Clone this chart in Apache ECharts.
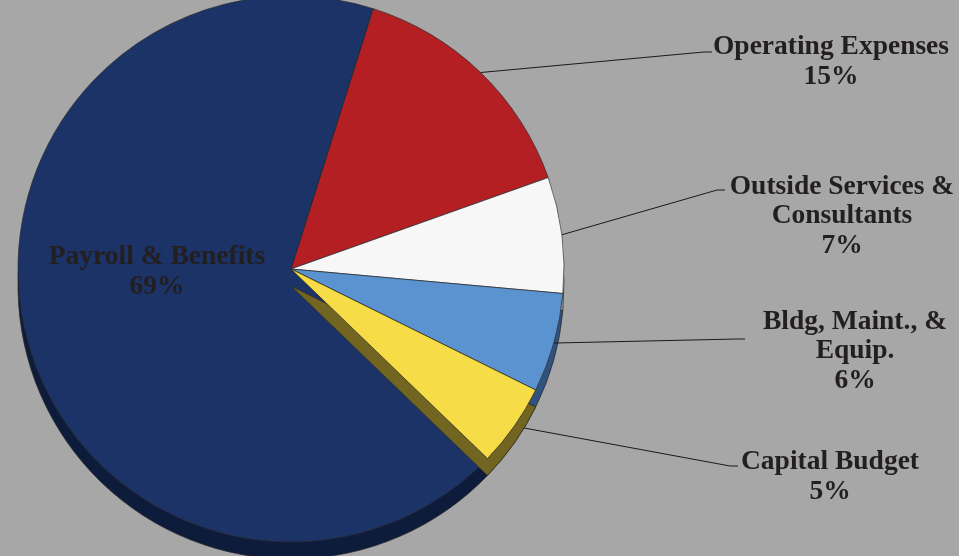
<!DOCTYPE html>
<html>
<head>
<meta charset="utf-8">
<script src="https://cdn.jsdelivr.net/npm/echarts@6/dist/echarts.min.js"></script>
<style>
html,body{margin:0;padding:0;background:#a6a7a6;}
#chart{width:959px;height:556px;}
</style>
</head>
<body>
<div id="chart"></div>
<script>
// Data
const categories = ['Operating Expenses', 'Outside Services &\nConsultants', 'Bldg, Maint., &\nEquip.', 'Capital Budget', 'Payroll & Benefits'];
const values = [15, 7, 6, 5, 69];

// Styles
const topColors = ['#b41f24', '#f7f7f7', '#5b93d0', '#f6dd47', '#1b3366'];
const sideColors = ['#6e1216', '#9a9a9a', '#2f527e', '#716521', '#0e1c3b'];
const exploded = 3; // index of the slice drawn with a visible wall

// Label placement (block centers) and leader-line ends
const labelPlace = [
  {x: 831, y: 62, lx: 712, ly: 52},
  {x: 842, y: 216, lx: 725, ly: 190},
  {x: 855, y: 351, lx: 745, ly: 339},
  {x: 830, y: 477, lx: 738, ly: 466},
  {x: 157, y: 272}
];

const cx = 291, cy = 269, R = 273, depth = 17, startAngle = 72.5;
const font = 'Liberation Serif, Times New Roman, serif';

function mk(colors, showIdx) {
  return categories.map((n, i) => ({
    name: n,
    value: values[i],
    itemStyle: {
      color: (showIdx === undefined || showIdx === i) ? colors[i] : 'rgba(0,0,0,0)',
      borderColor: (showIdx === undefined || showIdx === i) ? '#2a2a2a' : 'rgba(0,0,0,0)',
      borderWidth: 0.7
    }
  }));
}

const topData = mk(topColors).map((d, i) => {
  if (i === 4) {
    d.label = {position: 'inside'};
    d.labelLine = {show: false};
  }
  return d;
});

const base = {
  type: 'pie',
  radius: R,
  startAngle: startAngle,
  clockwise: true,
  animation: false,
  silent: true,
  label: {show: false},
  labelLine: {show: false},
  emphasis: {disabled: true}
};

const chart = echarts.init(document.getElementById('chart'), null, {renderer: 'canvas'});
chart.setOption({
  backgroundColor: '#a6a7a6',
  series: [
    Object.assign({}, base, {center: [cx, cy + depth], data: mk(sideColors), z: 1}),
    Object.assign({}, base, {
      center: [cx, cy], data: topData, z: 2,
      label: {
        show: true,
        formatter: '{b}\n{c}%',
        fontFamily: font,
        fontWeight: 'bold',
        fontSize: 27.5,
        lineHeight: 29.5,
        color: '#231f20',
        align: 'center'
      },
      labelLine: {show: true, lineStyle: {color: '#1a1a1a', width: 1}, length: 20, length2: 10},
      labelLayout: function (p) {
        const pl = labelPlace[p.dataIndex];
        const out = {x: pl.x, y: pl.y, align: 'center', verticalAlign: 'middle'};
        if (pl.lx !== undefined && p.labelLinePoints) {
          const s = p.labelLinePoints[0];
          out.labelLinePoints = [s, [pl.lx - 8, pl.ly], [pl.lx, pl.ly]];
        }
        return out;
      }
    }),
    Object.assign({}, base, {center: [cx, cy + depth], data: mk(sideColors, exploded), z: 3}),
    Object.assign({}, base, {center: [cx, cy], data: mk(topColors, exploded), z: 4})
  ]
});
</script>
</body>
</html>
